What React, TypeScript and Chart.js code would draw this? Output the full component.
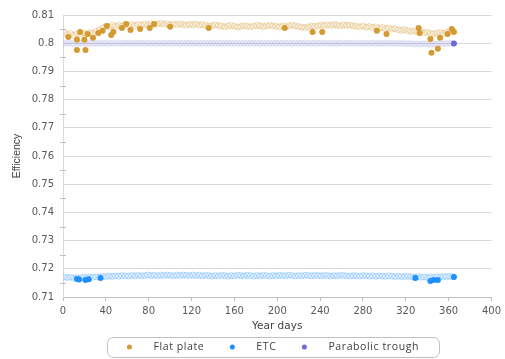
import React, { useEffect, useRef } from "react";
import { Chart, registerables } from "chart.js";

Chart.register(...registerables);

// ---------------- DATA ----------------
const seriesLabels = ["Flat plate", "ETC", "Parabolic trough"];

const bandDays = [
  1, 4, 7, 10, 13, 16, 19, 22, 25, 28,
  31, 34, 37, 40, 43, 46, 49, 52, 55, 58,
  61, 64, 67, 70, 73, 76, 79, 82, 85, 88,
  91, 94, 97, 100, 103, 106, 109, 112, 115, 118,
  121, 124, 127, 130, 133, 136, 139, 142, 145, 148,
  151, 154, 157, 160, 163, 166, 169, 172, 175, 178,
  181, 184, 187, 190, 193, 196, 199, 202, 205, 208,
  211, 214, 217, 220, 223, 226, 229, 232, 235, 238,
  241, 244, 247, 250, 253, 256, 259, 262, 265, 268,
  271, 274, 277, 280, 283, 286, 289, 292, 295, 298,
  301, 304, 307, 310, 313, 316, 319, 322, 325, 328,
  331, 334, 337, 340, 343, 346, 349, 352, 355, 358,
  361, 364,
];

const flatBand = [
  0.8036, 0.8031, 0.8034, 0.8028, 0.8033, 0.803, 0.8036, 0.8032, 0.8038, 0.8035,
  0.8042, 0.8047, 0.8055, 0.806, 0.8058, 0.8063, 0.806, 0.8064, 0.8061, 0.8066,
  0.8063, 0.8066, 0.8062, 0.8067, 0.8064, 0.8068, 0.8065, 0.807, 0.8066, 0.8068,
  0.8071, 0.8067, 0.8069, 0.8065, 0.8068, 0.8066, 0.8069, 0.8066, 0.8064, 0.8067,
  0.8065, 0.8068, 0.8064, 0.8066, 0.8063, 0.806, 0.8062, 0.8065, 0.8063, 0.8061,
  0.8058, 0.8061, 0.8063, 0.806, 0.8057, 0.8059, 0.8062, 0.806, 0.8058, 0.8061,
  0.8063, 0.8061, 0.8059, 0.8062, 0.8064, 0.8062, 0.806, 0.8058, 0.8061, 0.8059,
  0.8062, 0.8064, 0.8061, 0.8059, 0.8057, 0.8055, 0.8058, 0.8061, 0.8059, 0.8062,
  0.8064, 0.8062, 0.8065, 0.8063, 0.8066, 0.8064, 0.8062, 0.8065, 0.8063, 0.8064,
  0.8062, 0.806, 0.8058, 0.8061, 0.8057, 0.8059, 0.8056, 0.8058, 0.8054, 0.8056,
  0.8052, 0.8054, 0.805, 0.8051, 0.8048, 0.8046, 0.8048, 0.8044, 0.8042, 0.8044,
  0.804, 0.8042, 0.8037, 0.8039, 0.8035, 0.8033, 0.8036, 0.8038, 0.8035, 0.8039,
  0.8041, 0.8043,
];

const etcBand = [
  0.7171, 0.7169, 0.717, 0.7167, 0.7169, 0.7168, 0.717, 0.7169, 0.7171, 0.717,
  0.7172, 0.7171, 0.7173, 0.7172, 0.7174, 0.7173, 0.7175, 0.7174, 0.7176, 0.7175,
  0.7174, 0.7176, 0.7175, 0.7177, 0.7175, 0.7176, 0.7178, 0.7176, 0.7177, 0.7175,
  0.7177, 0.7176, 0.7178, 0.7177, 0.7175, 0.7177, 0.7176, 0.7178, 0.7177, 0.7176,
  0.7178, 0.7176, 0.7177, 0.7175, 0.7177, 0.7176, 0.7174, 0.7176, 0.7175, 0.7177,
  0.7176, 0.7174, 0.7176, 0.7175, 0.7177, 0.7176, 0.7175, 0.7177, 0.7176, 0.7174,
  0.7176, 0.7175, 0.7177, 0.7176, 0.7174, 0.7176, 0.7175, 0.7177, 0.7176, 0.7175,
  0.7177, 0.7176, 0.7174, 0.7176, 0.7175, 0.7177, 0.7176, 0.7175, 0.7177, 0.7176,
  0.7175, 0.7177, 0.7176, 0.7174, 0.7176, 0.7175, 0.7177, 0.7176, 0.7175, 0.7174,
  0.7176, 0.7175, 0.7174, 0.7176, 0.7175, 0.7174, 0.7175, 0.7173, 0.7175, 0.7174,
  0.7173, 0.7175, 0.7174, 0.7172, 0.7174, 0.7173, 0.7172, 0.7174, 0.7172, 0.717,
  0.7172, 0.717, 0.7171, 0.7169, 0.7171, 0.717, 0.7172, 0.7171, 0.7173, 0.7172,
  0.7173, 0.7172,
];

const troughBand = [
  0.7999, 0.8, 0.7999, 0.7998, 0.7999, 0.8, 0.7999, 0.7999, 0.8, 0.7999,
  0.8, 0.7999, 0.8, 0.8, 0.7999, 0.8, 0.8, 0.7999, 0.8, 0.8,
  0.8, 0.7999, 0.8, 0.8, 0.8, 0.7999, 0.8, 0.8, 0.7999, 0.8,
  0.8, 0.8, 0.7999, 0.8, 0.8, 0.8, 0.7999, 0.8, 0.8, 0.8,
  0.7999, 0.8, 0.8, 0.7999, 0.8, 0.8, 0.8, 0.7999, 0.8, 0.8,
  0.7999, 0.8, 0.8, 0.8, 0.7999, 0.8, 0.8, 0.7999, 0.8, 0.8,
  0.8, 0.7999, 0.8, 0.8, 0.7999, 0.8, 0.8, 0.8, 0.7999, 0.8,
  0.8, 0.7999, 0.8, 0.8, 0.8, 0.7999, 0.8, 0.8, 0.7999, 0.8,
  0.8, 0.8, 0.7999, 0.8, 0.8, 0.7999, 0.8, 0.8, 0.8, 0.7999,
  0.8, 0.8, 0.7999, 0.8, 0.8, 0.7999, 0.8, 0.7999, 0.8, 0.7999,
  0.7999, 0.8, 0.7999, 0.7999, 0.8, 0.7999, 0.7999, 0.7998, 0.7999, 0.7997,
  0.7998, 0.7996, 0.7998, 0.7997, 0.7995, 0.7997, 0.7998, 0.7999, 0.7998, 0.7999,
  0.7999, 0.8,
];

const flatDays = [5, 13, 13, 16, 20, 21, 23, 28, 33, 37, 41, 45, 47, 55, 59, 63, 72, 81, 85, 100, 136, 207, 233, 242, 293, 302, 332, 333, 343, 344, 350, 352, 359, 363, 365];
const flatValues = [0.8022, 0.8012, 0.7976, 0.804, 0.8012, 0.7976, 0.8033, 0.8019, 0.8036, 0.8044, 0.8061, 0.8029, 0.804, 0.8054, 0.8068, 0.8047, 0.805, 0.8054, 0.8068, 0.8058, 0.8054, 0.8054, 0.804, 0.804, 0.8044, 0.8033, 0.8054, 0.8036, 0.8015, 0.7966, 0.798, 0.8019, 0.8033, 0.805, 0.804];

const etcDays = [13, 15, 21, 24, 35, 329, 343, 346, 350, 365];
const etcValues = [0.7164, 0.7162, 0.716, 0.7163, 0.7167, 0.7167, 0.7157, 0.716, 0.716, 0.7171];

const troughDays = [365];
const troughValues = [0.7999];

const xMin = 0;
const xMax = 400;
const xStep = 40;
const yMin = 0.71;
const yMax = 0.81;
const yStep = 0.01;
const xTitle = "Year days";
const yTitle = "Efficiency";

// ---------------- STYLES ----------------
const solidColors = ["#D39B32", "#1E8FFF", "#6B6BD6"];
const faintFill = ["rgba(211,155,50,0.07)", "rgba(30,143,255,0.06)", "rgba(107,107,214,0.07)"];
const faintBorder = ["rgba(211,155,50,0.32)", "rgba(30,143,255,0.28)", "rgba(107,107,214,0.14)"];

const toPoints = (xs: number[], ys: number[]) => xs.map((x, i) => ({ x, y: ys[i] }));

const minorTickPlugin = {
  id: "minorTicks",
  afterDraw(chart: any) {
    const y = chart.scales.y;
    const ctx = chart.ctx;
    ctx.save();
    ctx.strokeStyle = "#bfbfbf";
    ctx.lineWidth = 1;
    const ticks = y.ticks;
    for (let i = 0; i < ticks.length - 1; i++) {
      const v = (ticks[i].value + ticks[i + 1].value) / 2;
      const py = Math.round(y.getPixelForValue(v)) + 0.5;
      ctx.beginPath();
      ctx.moveTo(y.right - 3, py);
      ctx.lineTo(y.right + 3, py);
      ctx.stroke();
    }
    ctx.restore();
  },
};

const boxLegendPlugin = {
  id: "boxLegend",
  afterDraw(chart: any) {
    const ctx = chart.ctx;
    const ca = chart.chartArea;
    ctx.save();
    ctx.font = '10.5px "Open Sans"';
    (ctx as any).letterSpacing = "0.6px";
    const dotGap = 24;
    const itemGap = 28;
    const widths = seriesLabels.map((l) => ctx.measureText(l).width);
    const total = widths.reduce((a, w) => a + dotGap + w, 0) + itemGap * (seriesLabels.length - 1);
    const cx = (ca.left + ca.right) / 2 - 3;
    let x = cx - total / 2;
    const cy = chart.height - 12;
    const boxL = x - 22.5;
    const boxR = x + total + 20;
    const boxT = cy - 10;
    const boxB = cy + 10;
    ctx.strokeStyle = "#bfbfbf";
    ctx.lineWidth = 1;
    ctx.beginPath();
    (ctx as any).roundRect(Math.round(boxL) + 0.5, boxT + 0.5, Math.round(boxR - boxL), boxB - boxT, 6);
    ctx.stroke();
    ctx.textBaseline = "middle";
    ctx.textAlign = "left";
    seriesLabels.forEach((label, i) => {
      ctx.fillStyle = solidColors[i];
      ctx.beginPath();
      ctx.arc(x, cy, 2.5, 0, Math.PI * 2);
      ctx.fill();
      ctx.fillStyle = "#404040";
      ctx.fillText(label, x + dotGap, cy);
      x += dotGap + widths[i] + itemGap;
    });
    ctx.restore();
  },
};

export default function App() {
  const ref = useRef<HTMLCanvasElement | null>(null);

  useEffect(() => {
    if (!ref.current) return;
    const solidSets = [
      toPoints(flatDays, flatValues),
      toPoints(etcDays, etcValues),
      toPoints(troughDays, troughValues),
    ].map((data, i) => ({
      label: seriesLabels[i],
      data,
      pointRadius: 3,
      pointBackgroundColor: solidColors[i],
      pointBorderColor: solidColors[i],
      pointBorderWidth: 0,
      showLine: false,
    }));
    const faintSets = [flatBand, etcBand, troughBand].map((vals, i) => ({
      label: seriesLabels[i] + " (daily)",
      data: toPoints(bandDays, vals),
      pointRadius: 3,
      pointBackgroundColor: faintFill[i],
      pointBorderColor: faintBorder[i],
      pointBorderWidth: 1,
      showLine: false,
    }));

    const chart = new Chart(ref.current, {
      type: "scatter",
      data: { datasets: [...solidSets, ...faintSets] as any },
      plugins: [minorTickPlugin, boxLegendPlugin],
      options: {
        animation: false,
        responsive: false,
        maintainAspectRatio: false,
        layout: { padding: { left: 0, right: 12, top: 14, bottom: 26 } },
        plugins: {
          legend: { display: false },
          tooltip: { enabled: false },
        },
        scales: {
          x: {
            type: "linear",
            min: xMin,
            max: xMax,
            afterFit: (s: any) => {
              s.height = 36;
            },
            ticks: {
              stepSize: xStep,
              color: "#595959",
              font: { family: '"DejaVu Sans"', size: 10 },
              padding: 4,
              maxRotation: 0,
            },
            grid: {
              drawOnChartArea: false,
              drawTicks: true,
              tickLength: 4,
              color: "#bfbfbf",
            },
            border: { color: "#bfbfbf" },
            title: {
              display: true,
              text: xTitle,
              color: "#404040",
              font: { family: '"DejaVu Sans"', size: 10.5 },
              padding: { top: 0, bottom: 0 },
            },
          },
          y: {
            type: "linear",
            min: yMin,
            max: yMax,
            afterFit: (s: any) => {
              s.width = 63;
            },
            ticks: {
              stepSize: yStep,
              color: "#595959",
              font: { family: '"DejaVu Sans"', size: 10 },
              padding: 9,
              callback: (v: any) => String(Number(Number(v).toFixed(2))),
            },
            grid: {
              color: "#d9d9d9",
              drawTicks: false,
            },
            border: { color: "#d9d9d9" },
            title: {
              display: true,
              text: yTitle,
              color: "#404040",
              font: { family: '"Liberation Sans Narrow", "Liberation Sans"', size: 10.5 },
              padding: { top: 11, bottom: 0 },
            },
          },
        },
      },
    });
    return () => chart.destroy();
  }, []);

  return (
    <div style={{ position: "fixed", left: 0, top: 0, width: 505, height: 359, background: "#fff" }}>
      <canvas ref={ref} width={505} height={359} style={{ width: 505, height: 359, display: "block" }} />
    </div>
  );
}
